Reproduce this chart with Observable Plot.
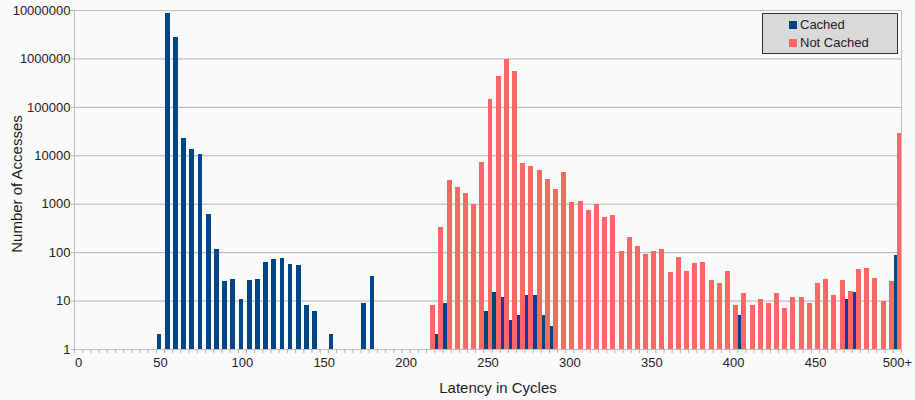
<!DOCTYPE html>
<html><head><meta charset="utf-8">
<script src="https://cdn.jsdelivr.net/npm/d3@7"></script>
<script src="https://cdn.jsdelivr.net/npm/@observablehq/plot@0.6"></script>
<style>
body{margin:0;background:#fafafa;font-family:"Liberation Sans",Arial,sans-serif;color:#222;}
#wrap{position:relative;width:915px;height:400px;overflow:hidden;}
#legend{position:absolute;left:762px;top:13px;width:136px;height:41px;background:#d9d9d9;border:1px solid #333;box-sizing:border-box;font-size:13px;}
.item{position:absolute;left:26px;height:16px;line-height:16px;white-space:nowrap;}
.sw{display:inline-block;width:8px;height:8px;margin-right:3px;vertical-align:0px;}
#ytitle{position:absolute;left:16px;top:184px;transform:translate(-50%,-50%) rotate(-90deg);white-space:nowrap;font-size:15px;line-height:1;}
#xtitle{position:absolute;left:498px;top:380px;transform:translate(-50%,0);white-space:nowrap;font-size:15px;line-height:1;}
</style></head><body><div id="wrap"></div>
<script>
// Cached (blue) series: latency bin (cycles) and count
const cachedBins   = [45,50,55,60,65,70,75,80,85,90,95,100,105,110,115,120,125,130,135,140,150,170,175,215,220,245,250,255,260,265,270,275,280,285,400,465,470,495];
const cachedValues = [2,8500000,2770000,23000,13500,10600,613,116,25,28,11,27,28,63,72,76,57,54,8,6,2,9,32,2,9,6,15,12,4,5,13,13,5,3,5,11,15,87];
// Not cached (red) series
const notCachedBins   = [215,220,225,230,235,240,245,250,255,260,265,270,275,280,285,290,295,300,305,310,315,320,325,330,335,340,345,350,355,360,365,370,375,380,385,390,395,400,405,410,415,420,425,430,435,440,445,450,455,460,465,470,475,480,485,490,495,500];
const notCachedValues = [8,330,3090,2210,1660,990,7260,145000,434000,973000,550000,6930,6010,4970,3240,2010,4520,1070,1120,741,986,532,585,106,205,134,92,106,116,39,79,41,60,63,27,23,41,8,14,8,11,9,14,7,12,12,9,23,28,13,27,16,45,47,29,10,25,28800];
// Axis ticks
const yTicks = [1,10,100,1000,10000,100000,1000000,10000000];
const xTicks = [0,50,100,150,200,250,300,350,400,450,500];
const xTickLabels = ["0","50","100","150","200","250","300","350","400","450","500+"];

const cached = cachedBins.map((b,i)=>({bin:b, value:cachedValues[i]}));
const notCached = notCachedBins.map((b,i)=>({bin:b, value:notCachedValues[i]}));
const minorTicks = d3.range(-2.5, 503, 5);

const chart = Plot.plot({
  width: 915, height: 400,
  marginLeft: 74, marginRight: 14, marginTop: 10, marginBottom: 51,
  style: {background: "#fafafa", fontFamily: "'Liberation Sans', Arial, sans-serif", fontSize: "13px", color: "#222"},
  x: {type: "linear", domain: [-2.5, 502.5]},
  y: {type: "log", domain: [1, 1e7]},
  marks: [
    Plot.gridY(yTicks, {stroke: "#b3b3b3", strokeOpacity: 1}),
    Plot.rect(cached, {x1: d => d.bin + 3.0, x2: d => d.bin + 5.9, y1: 1, y2: "value", fill: "#004586", shapeRendering: "crispEdges"}),
    Plot.rect(notCached, {x1: "bin", x2: d => d.bin + 3.05, y1: 1, y2: "value", fill: "#ff6666", shapeRendering: "crispEdges"}),
    Plot.frame({stroke: "#c0c0c0"}),
    Plot.axisY(yTicks, {tickFormat: d => String(d), tickSize: 3, tickPadding: 1, stroke: "#b3b3b3", label: null, fontSize: 13}),
    Plot.axisX(xTicks, {tickSize: 0, tickPadding: 8, tickFormat: (d,i) => xTickLabels[xTicks.indexOf(d)], label: null, fontSize: 13}),
    Plot.axisX(minorTicks, {text: null, tickSize: 4, stroke: "#b3b3b3", label: null})
  ]
});
const wrap = document.getElementById("wrap");
wrap.appendChild(chart);
wrap.insertAdjacentHTML("beforeend",
  `<div id="legend">
     <div class="item" style="top:3px"><span class="sw" style="background:#004586"></span>Cached</div>
     <div class="item" style="top:21px"><span class="sw" style="background:#ff6666"></span>Not Cached</div>
   </div>
   <div id="ytitle">Number of Accesses</div>
   <div id="xtitle">Latency in Cycles</div>`);
</script>
</body></html>
